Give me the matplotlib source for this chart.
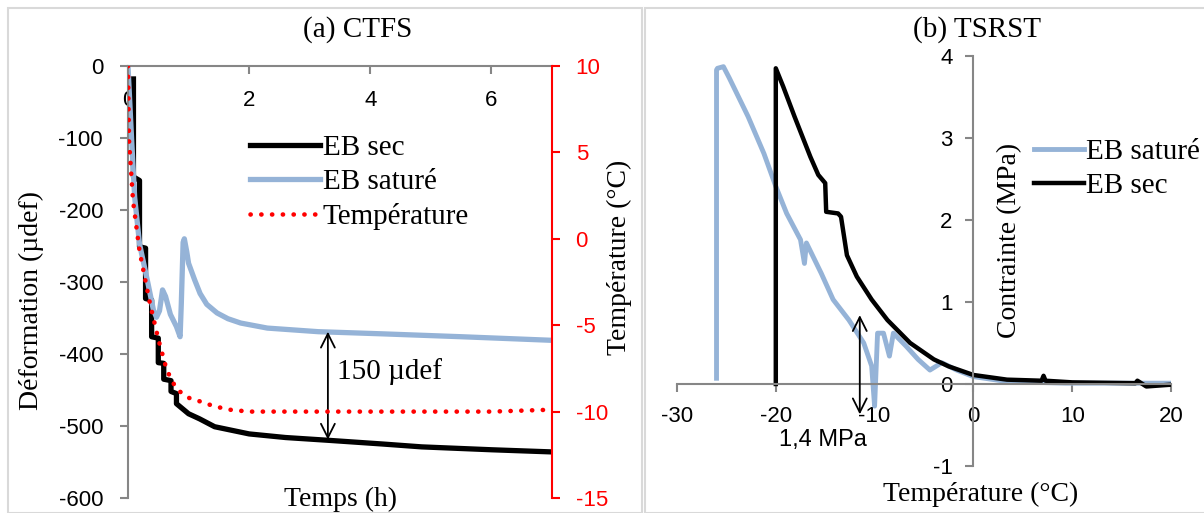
import matplotlib
matplotlib.use("Agg")
import matplotlib.pyplot as plt
from matplotlib.patches import Rectangle

plt.rcParams["axes.unicode_minus"] = False

# (a) CTFS - strain (µdef) and temperature vs time (h)
sec_t = [0.09, 0.09, 0.19, 0.19, 0.29, 0.29, 0.39, 0.39, 0.50, 0.50, 0.59, 0.59,
         0.71, 0.71, 0.80, 0.80, 1.0, 1.18, 1.43, 2.0, 2.6, 3.33, 4.2, 4.85, 6.0, 7.0]
sec_def = [-18, -154, -159, -251, -253, -323, -325, -376, -378, -412, -413, -435,
           -437, -452, -455, -469, -483, -490, -501, -511, -516, -520, -525, -529, -533, -536]

sat_t = [0, 0.055, 0.11, 0.19, 0.33, 0.42, 0.47, 0.52, 0.57, 0.62, 0.70, 0.80, 0.86,
         0.88, 0.91, 0.93, 0.97, 1.0, 1.1, 1.19, 1.3, 1.47, 1.65, 1.86, 2.3, 3.14, 4.2,
         5.5, 7.0]
sat_def = [0, -94, -182, -247, -302, -339, -349, -340, -311, -320, -345, -362, -376,
           -330, -245, -240, -258, -274, -297, -316, -331, -343, -351, -357, -364, -369,
           -372, -376, -381]

temp_t = [0, 0.017, 0.083, 0.19, 0.36, 0.5, 0.64, 0.8, 1.0, 1.18, 1.43, 1.7, 2.0,
          3.0, 4.0, 5.0, 6.0, 6.9]
temp_c = [10, 5.7, 2.2, -0.7, -3.7, -5.8, -7.6, -8.7, -9.2, -9.4, -9.7, -9.9, -10.0,
          -10.0, -10.0, -10.0, -10.0, -9.9]

# (b) TSRST - stress (MPa) vs temperature (°C)
tsat_T = [-26.0, -26.0, -25.9, -25.3, -24.7, -22.8, -21.2, -20.0, -18.9, -17.5, -17.1,
          -16.9, -15.4, -14.2, -12.6, -11.1, -10.3, -10.0, -9.7, -9.1, -8.5, -8.1, -6.8,
          -5.6, -4.4, -3.2, -1.7, 0, 3.4, 9.3, 19.8]
tsat_s = [0.07, 3.83, 3.85, 3.87, 3.73, 3.26, 2.81, 2.41, 2.08, 1.76, 1.47,
          1.72, 1.35, 1.03, 0.78, 0.50, 0.22, -0.27, 0.62, 0.62, 0.34, 0.62, 0.46,
          0.30, 0.17, 0.26, 0.17, 0.09, 0.03, 0.01, 0.01]

tsec_T = [-20, -20, -19.26, -18.1, -16.5, -15.7, -15.0, -14.9, -13.7, -13.4, -12.8,
          -11.8, -10.3, -8.7, -6.4, -4.0, -2.5, 0, 3.4, 6.9, 7.1, 7.3, 10, 16.4, 16.6,
          17.5, 19.8]
tsec_s = [0, 3.85, 3.63, 3.26, 2.77, 2.55, 2.45, 2.1, 2.08, 2.04, 1.57,
          1.31, 1.03, 0.78, 0.5, 0.3, 0.215, 0.11, 0.053, 0.04, 0.1, 0.04, 0.02, 0.01,
          0.04, -0.03, -0.01]

BLUE = "#95b3d7"
GRAY = "#868686"
SERIF = "Liberation Serif"
SANS = "Liberation Sans"
FS = 21      # serif text
TS = 16      # tick labels

W, H = 1204, 513
fig = plt.figure(figsize=(W / 100, H / 100), dpi=100)

# panel frames
fig.patches.append(Rectangle((8 / W, 0), 634 / W, 1 - 8 / H, transform=fig.transFigure,
                             fill=False, ec="#d9d9d9", lw=1.5))
fig.patches.append(Rectangle((645 / W, 0), 570 / W, 1 - 8 / H, transform=fig.transFigure,
                             fill=False, ec="#d9d9d9", lw=1.5))

# ---------- (a) ----------
ax = fig.add_axes([128 / W, 1 - 498 / H, 424 / W, 432 / H])
ax.set_xlim(0, 7)
ax.set_ylim(-600, 0)
l1, = ax.plot(sec_t, sec_def, color="black", lw=3.8, label="EB sec")
l2, = ax.plot(sat_t, sat_def, color=BLUE, lw=3.8, label="EB saturé")
ax.spines["top"].set_visible(False)
ax.spines["right"].set_visible(False)
ax.spines["bottom"].set_position(("data", 0))
for s in ("left", "bottom"):
    ax.spines[s].set_color(GRAY)
    ax.spines[s].set_linewidth(1.5)
ax.set_xticks([0, 2, 4, 6])
ax.set_yticks(range(-600, 1, 100))
ax.tick_params(axis="both", colors=GRAY, length=6, width=1.5, labelsize=TS,
               labelcolor="black")
ax.tick_params(axis="y", pad=12)
ax.tick_params(axis="x", pad=11)
for lab in ax.get_xticklabels() + ax.get_yticklabels():
    lab.set_family(SANS)
ax.text(-0.228, 0.458, "Déformation (µdef)", transform=ax.transAxes, rotation=90,
        family=SERIF, fontsize=20, ha="center", va="center")
ax.text(0.5, -0.004, "Temps (h)", transform=ax.transAxes, ha="center", va="center",
        family=SERIF, fontsize=20)

ax2 = ax.twinx()
ax2.set_ylim(-15, 10)
l3, = ax2.plot(temp_t, temp_c, color="red", lw=3.3, linestyle=(0, (0.05, 2.3)),
               dash_capstyle="round", label="Température")
for s in ("top", "left", "bottom"):
    ax2.spines[s].set_visible(False)
ax2.spines["right"].set_color("red")
ax2.spines["right"].set_linewidth(1.5)
ax2.set_yticks(range(-15, 11, 5))
ax2.tick_params(axis="y", colors="red", length=6, width=1.5, labelsize=TS, pad=11)
for lab in ax2.get_yticklabels():
    lab.set_family(SANS)
ax2.text(1.16, 0.557, "Température (°C)", transform=ax2.transAxes, rotation=90,
         family=SERIF, fontsize=20, ha="center", va="center")

ax.annotate("", xy=(3.3, -369), xytext=(3.3, -519),
            arrowprops=dict(arrowstyle="<->", color="black", lw=1.3,
                            mutation_scale=25, shrinkA=0, shrinkB=0))
ax.text(3.45, -425, "150 µdef", family=SERIF, fontsize=FS, va="center", ha="left")

fig.legend(handles=[l1, l2, l3], loc="upper left", bbox_to_anchor=(250 / W, 1 - 135 / H),
           frameon=False, prop={"family": SERIF, "size": FS}, handlelength=2.4,
           handletextpad=0.1, borderpad=0, borderaxespad=0, labelspacing=0.26)

fig.text(358 / W, 1 - 30 / H, "(a) CTFS", family=SERIF, fontsize=FS, ha="center", va="center")

# ---------- (b) ----------
bx = fig.add_axes([677 / W, 1 - 466 / H, 494 / W, 410 / H])
bx.set_xlim(-30, 20)
bx.set_ylim(-1, 4)
m1, = bx.plot(tsat_T, tsat_s, color=BLUE, lw=3.5, label="EB saturé")
m2, = bx.plot(tsec_T, tsec_s, color="black", lw=3.2, label="EB sec")
bx.spines["top"].set_visible(False)
bx.spines["right"].set_visible(False)
bx.spines["left"].set_position(("data", 0))
bx.spines["bottom"].set_position(("data", 0))
for s in ("left", "bottom"):
    bx.spines[s].set_color(GRAY)
    bx.spines[s].set_linewidth(1.5)
bx.set_xticks(range(-30, 21, 10))
bx.set_yticks(range(-1, 5))
bx.tick_params(axis="both", colors=GRAY, length=6, width=1.5, labelsize=TS,
               labelcolor="black")
bx.tick_params(axis="x", pad=10)
bx.tick_params(axis="y", pad=9)
for lab in bx.get_xticklabels() + bx.get_yticklabels():
    lab.set_family(SANS)
bx.text(0.674, 0.55, "Contrainte (MPa)", transform=bx.transAxes, rotation=90,
        family=SERIF, fontsize=20, ha="center", va="center")
bx.text(0.615, -0.07, "Température (°C)", transform=bx.transAxes, ha="center",
        va="center", family=SERIF, fontsize=20)

bx.annotate("", xy=(-11.5, 0.84), xytext=(-11.5, -0.37),
            arrowprops=dict(arrowstyle="<->", color="black", lw=1.3,
                            mutation_scale=25, shrinkA=0, shrinkB=0))
bx.text(-15.2, -0.68, "1,4 MPa", family=SANS, fontsize=17, ha="center", va="center")

fig.legend(handles=[m1, m2], loc="upper left", bbox_to_anchor=(1034 / W, 1 - 139 / H),
           frameon=False, prop={"family": SERIF, "size": FS}, handlelength=1.7,
           handletextpad=0.1, borderpad=0, borderaxespad=0, labelspacing=0.24)

fig.text(977 / W, 1 - 30 / H, "(b) TSRST", family=SERIF, fontsize=FS, ha="center", va="center")

fig.savefig("out.png", dpi=100)
